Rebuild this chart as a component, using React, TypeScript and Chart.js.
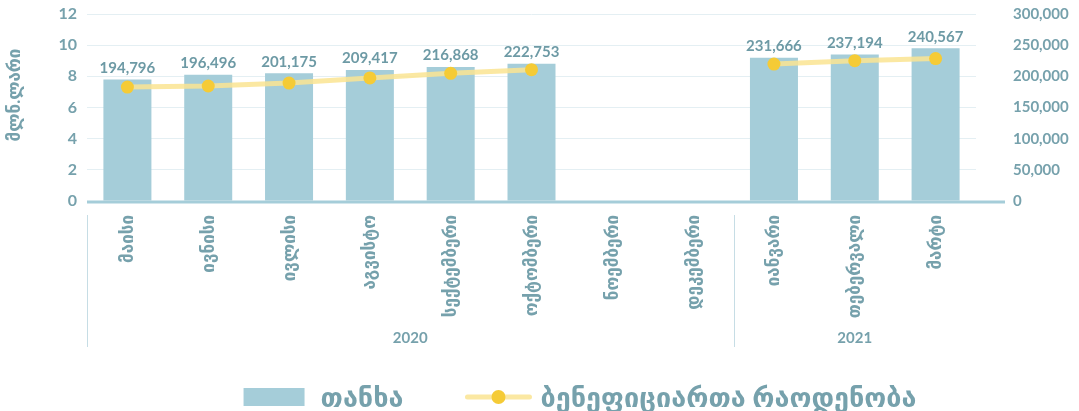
import React, { useEffect, useRef } from "react";
import { Chart, registerables } from "chart.js";

Chart.register(...registerables);

const months = ["მაისი", "ივნისი", "ივლისი", "აგვისტო", "სექტემბერი", "ოქტომბერი", "ნოემბერი", "დეკემბერი", "იანვარი", "თებერვალი", "მარტი"];
const years = ["2020", "2021"];
const yearSpans = [8, 3];
const amounts = [7.8, 8.1, 8.2, 8.4, 8.6, 8.8, null, null, 9.2, 9.4, 9.8];
const beneficiaries = [194796, 196496, 201175, 209417, 216868, 222753, null, null, 231666, 237194, 240567];
const leftAxisTitle = "მლნ.ლარი";
const legendAmount = "თანხა";
const legendBeneficiaries = "ბენეფიციართა რაოდენობა";

const FONT = "Lato, 'DejaVu Sans', sans-serif";
const TEXT = "#76a1ac";
const LABEL = "#6d9aa5";
const BAR = "#a5cdd9";
const LINE = "rgba(250, 228, 146, 0.85)";
const POINT = "#f5cb36";

const zeroPad = (s: any) => {
  s.paddingTop = 0;
  s.paddingBottom = 0;
};

const decorPlugin = {
  id: "decor",
  afterDatasetsDraw(chart: any) {
    const ctx = chart.ctx;
    const area = chart.chartArea;
    ctx.save();
    ctx.strokeStyle = BAR;
    ctx.lineWidth = 3;
    ctx.beginPath();
    ctx.moveTo(area.left, area.bottom + 1);
    ctx.lineTo(area.right + 29, area.bottom + 1);
    ctx.stroke();
    const barIdx = chart.data.datasets.findIndex((d: any) => d.type === "bar");
    const meta = chart.getDatasetMeta(barIdx);
    ctx.font = `bold 15px ${FONT}`;
    ctx.fillStyle = LABEL;
    ctx.textAlign = "center";
    ctx.textBaseline = "bottom";
    meta.data.forEach((el: any, i: number) => {
      const v = beneficiaries[i];
      if (v == null || amounts[i] == null) return;
      ctx.fillText(v.toLocaleString("en-US"), el.x, el.y - 4);
    });
    ctx.restore();
  },
  afterDraw(chart: any) {
    const ctx = chart.ctx;
    const area = chart.chartArea;
    const xs = chart.scales.x;
    const half = (xs.getPixelForValue(1) - xs.getPixelForValue(0)) / 2;
    ctx.save();
    // left axis title
    ctx.save();
    ctx.translate(15, 95);
    ctx.rotate(-Math.PI / 2);
    ctx.font = `bold 17px ${FONT}`;
    ctx.fillStyle = TEXT;
    ctx.textAlign = "center";
    ctx.textBaseline = "middle";
    ctx.fillText(leftAxisTitle, 0, 0);
    ctx.restore();
    // year groups
    let start = 0;
    const bounds: number[] = [];
    yearSpans.forEach((span, gi) => {
      const left = xs.getPixelForValue(start) - half;
      const right = xs.getPixelForValue(start + span - 1) + half;
      bounds.push(left);
      ctx.font = `bold 15px ${FONT}`;
      ctx.fillStyle = TEXT;
      ctx.textAlign = "center";
      ctx.textBaseline = "middle";
      ctx.fillText(years[gi], (left + right) / 2, area.bottom + 137);
      start += span;
    });
    ctx.strokeStyle = "#c6dde5";
    ctx.lineWidth = 1;
    bounds.forEach((bx) => {
      const x = Math.round(bx) + 0.5;
      ctx.beginPath();
      ctx.moveTo(x, area.bottom + 14);
      ctx.lineTo(x, area.bottom + 146);
      ctx.stroke();
    });
    // legend
    const ly = 397;
    ctx.font = `bold 27px ${FONT}`;
    const w1 = ctx.measureText(legendAmount).width;
    const w2 = ctx.measureText(legendBeneficiaries).width;
    const total = 61 + 16 + w1 + 62 + 66 + 9 + w2;
    let x = 580 - total / 2;
    ctx.fillStyle = BAR;
    ctx.fillRect(x, ly - 9, 61, 18);
    x += 61 + 16;
    ctx.fillStyle = TEXT;
    ctx.textAlign = "left";
    ctx.textBaseline = "middle";
    ctx.fillText(legendAmount, x, ly + 1);
    x += w1 + 62;
    ctx.strokeStyle = LINE;
    ctx.lineWidth = 5;
    ctx.lineCap = "round";
    ctx.beginPath();
    ctx.moveTo(x + 2, ly);
    ctx.lineTo(x + 64, ly);
    ctx.stroke();
    ctx.fillStyle = POINT;
    ctx.beginPath();
    ctx.arc(x + 33, ly, 7, 0, Math.PI * 2);
    ctx.fill();
    x += 66 + 9;
    ctx.fillStyle = TEXT;
    ctx.fillText(legendBeneficiaries, x, ly + 1);
    ctx.restore();
  },
};

export default function App() {
  const ref = useRef<HTMLCanvasElement | null>(null);
  useEffect(() => {
    if (!ref.current) return;
    const chart = new Chart(ref.current, {
      type: "bar",
      data: {
        labels: months,
        datasets: [
          {
            type: "bar",
            label: legendAmount,
            data: amounts,
            backgroundColor: BAR,
            yAxisID: "y",
            barPercentage: 0.594,
            categoryPercentage: 1,
            order: 1,
          } as any,
          {
            type: "line",
            label: legendBeneficiaries,
            data: beneficiaries,
            borderColor: LINE,
            backgroundColor: POINT,
            borderWidth: 5,
            pointRadius: 6.5,
            pointBackgroundColor: POINT,
            pointBorderWidth: 0,
            spanGaps: false,
            yAxisID: "yL",
            order: 0,
          } as any,
        ],
      },
      options: {
        responsive: true,
        maintainAspectRatio: false,
        animation: false,
        layout: { padding: { top: 14, left: 0, right: 0, bottom: 0 } },
        plugins: {
          tooltip: { enabled: false },
          legend: { display: false },
        },
        scales: {
          x: {
            grid: { display: false, drawTicks: false },
            border: { display: false },
            ticks: {
              autoSkip: false,
              maxRotation: 90,
              minRotation: 90,
              padding: 14,
              color: TEXT,
              font: { family: FONT, size: 17, weight: "bold" },
            },
            afterFit: (s: any) => {
              s.height = 210;
              zeroPad(s);
            },
          },
          y: {
            position: "left",
            min: 0,
            max: 12,
            ticks: {
              stepSize: 2,
              padding: 10,
              autoSkip: false,
              color: TEXT,
              font: { family: FONT, size: 16, weight: "bold" },
            },
            grid: { color: "#e4eff3", lineWidth: 1, drawTicks: false },
            border: { display: false },
            afterFit: (s: any) => {
              s.width = 87;
              zeroPad(s);
            },
          },
          yR: {
            position: "right",
            min: 0,
            max: 300000,
            ticks: {
              stepSize: 50000,
              padding: 37,
              autoSkip: false,
              color: TEXT,
              font: { family: FONT, size: 15, weight: "bold" },
              callback: (v: any) => Number(v).toLocaleString("en-US"),
            },
            grid: { display: false, drawTicks: false },
            border: { display: false },
            afterFit: (s: any) => {
              s.width = 103;
              zeroPad(s);
            },
          },
          yL: {
            display: false,
            min: 11700,
            max: 312200,
          },
        },
      } as any,
      plugins: [decorPlugin],
    });
    return () => chart.destroy();
  }, []);
  return (
    <div style={{ position: "absolute", left: 0, top: 0, width: 1079, height: 411, background: "#fff" }}>
      <canvas ref={ref} />
    </div>
  );
}
